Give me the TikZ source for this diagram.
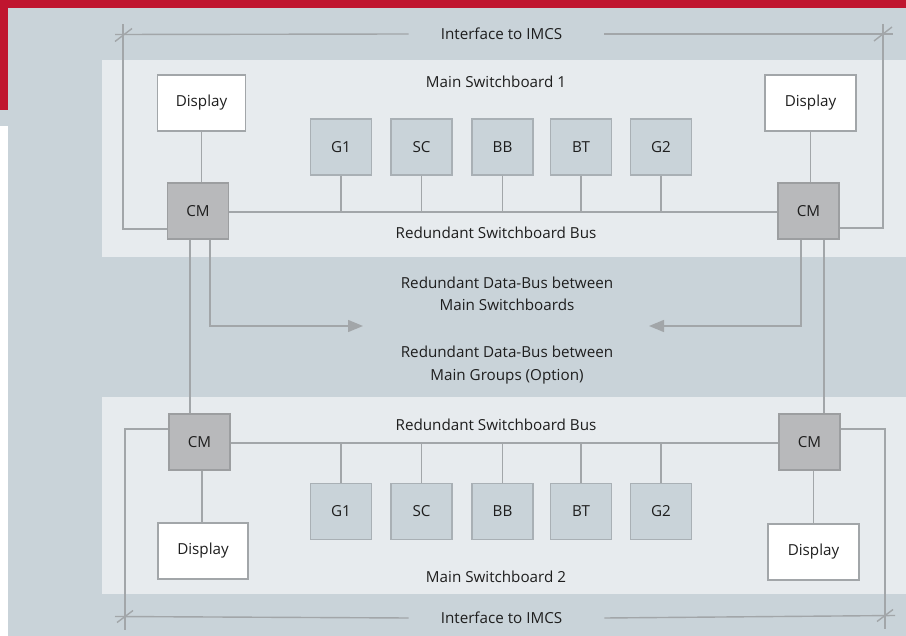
\documentclass[tikz,border=0pt]{standalone}
\usepackage{fontspec}
\setmainfont{Open Sans}
\usetikzlibrary{arrows.meta}
\definecolor{bgc}{HTML}{C9D3D9}
\definecolor{panelc}{HTML}{E7EBEE}
\definecolor{redc}{HTML}{C0152F}
\definecolor{linec}{HTML}{A2A6A9}
\definecolor{gfill}{HTML}{C9D3D9}
\definecolor{gdraw}{HTML}{A9B0B5}
\definecolor{cmfill}{HTML}{B8B9BB}
\definecolor{cmdraw}{HTML}{9C9EA0}
\definecolor{txtc}{HTML}{1E1E1E}
\begin{document}
\begin{tikzpicture}[x=1pt,y=-1pt,
  font=\fontsize{15.2}{18}\selectfont, text=txtc,
  ln/.style={draw=linec, line width=1.4pt},
  arr/.style={ln, -{Triangle[length=15pt,width=12pt]}, linec},
  dispbox/.style={draw=linec, fill=white, line width=1.4pt, minimum width=88pt, minimum height=56pt, inner sep=0pt},
  cmbox/.style={draw=cmdraw, fill=cmfill, line width=1.4pt, minimum width=61pt, minimum height=56pt, inner sep=0pt},
  gbox/.style={draw=gdraw, fill=gfill, line width=1.4pt, minimum width=61pt, minimum height=56pt, inner sep=0pt},
  lbl/.style={inner sep=0pt, align=center},
  tick/.style={ln}
]
% background
\fill[bgc] (0,0) rectangle (906,636);
\useasboundingbox (0,0) rectangle (906,636);
\fill[redc] (0,0) rectangle (906,8);
\fill[redc] (0,0) rectangle (8,110);
\fill[white] (0,126) rectangle (8,636);
\fill[panelc] (102,60) rectangle (906,257);
\fill[panelc] (102,397) rectangle (906,594);

% top switchboard
\node[dispbox] (d1) at (201.5,103) {Display};
\node[dispbox, minimum width=91pt] (d2) at (810.5,103) {Display};
\node[cmbox] (cm1) at (198,211) {CM};
\node[cmbox] (cm2) at (808.5,211) {CM};
\node[gbox] (g1) at (341,147) {G1};
\node[gbox] (g2) at (421.5,147) {SC};
\node[gbox] (g3) at (502.5,147) {BB};
\node[gbox] (g4) at (581,147) {BT};
\node[gbox] (g5) at (661,147) {G2};

% bottom switchboard
\node[cmbox] (cm3) at (199.5,442) {CM};
\node[cmbox] (cm4) at (809.5,442) {CM};
\node[dispbox, minimum width=90pt] (d3) at (203,551) {Display};
\node[dispbox, minimum width=91pt] (d4) at (813.5,552) {Display};
\node[gbox] (h1) at (341,511.5) {G1};
\node[gbox] (h2) at (421.5,511.5) {SC};
\node[gbox] (h3) at (502.5,511.5) {BB};
\node[gbox] (h4) at (581,511.5) {BT};
\node[gbox] (h5) at (661,511.5) {G2};

% labels
\node[lbl] (if1) at (501.5,34) {Interface to IMCS};
\node[lbl] (ms1) at (496,82) {Main Switchboard 1};
\node[lbl] (rb1) at (496,233) {Redundant Switchboard Bus};
\node[lbl] (db1) at (507,294) {Redundant Data-Bus between\\[4.5pt]Main Switchboards};
\node[lbl] (db2) at (507,365) {Redundant Data-Bus between\\[4.5pt]Main Groups (Option)};
\node[lbl] (rb2) at (496,425) {Redundant Switchboard Bus};
\node[lbl] (ms2) at (496,577) {Main Switchboard 2};
\node[lbl] (if2) at (501.5,618) {Interface to IMCS};

% top connectors
\draw[ln] (d1.south) -- (d1.south |- cm1.north);
\draw[ln] (d2.south) -- (d2.south |- cm2.north);
\coordinate (bus1) at (0,212);
\draw[ln] (cm1.east |- bus1) -- (cm2.west |- bus1);
\foreach \g in {g1,g2,g3,g4,g5}{
  \draw[ln] (\g.south) -- (\g.south |- bus1);
}
% bottom connectors
\coordinate (bus2) at (0,443);
\draw[ln] (cm3.east |- bus2) -- (cm4.west |- bus2);
\foreach \g in {h1,h2,h3,h4,h5}{
  \draw[ln] (\g.north) -- (\g.north |- bus2);
}
\draw[ln] ([xshift=2.5pt]cm3.south) -- ([xshift=2.5pt]cm3.south |- d3.north);
\draw[ln] ([xshift=4pt]cm4.south) -- ([xshift=4pt]cm4.south |- d4.north);

% data bus between switchboards
\draw[ln] ([xshift=-8pt]cm1.south) -- ([xshift=-8pt]cm1.south |- cm3.north);
\draw[ln] ([xshift=15.5pt]cm2.south) -- ([xshift=15.5pt]cm2.south |- cm4.north);
\coordinate (tipL) at (363,326);
\coordinate (tipR) at (649,326);
\draw[arr] ([xshift=12pt]cm1.south) |- (tipL);
\draw[arr] ([xshift=-7.5pt]cm2.south) |- (tipR);

% interface top
\coordinate (itl) at (123,34.5);
\coordinate (itr) at (883,34);
\coordinate (il1) at (123,229);
\coordinate (ir1) at (883,228);
\draw[ln] ([yshift=10pt]itl) -- (il1) -- (il1 -| cm1.west);
\draw[ln] ([yshift=10pt]itr) -- (ir1) -- (ir1 -| cm2.east);
\draw[ln] ([xshift=-8pt]itl) -- ([xshift=-32pt]if1.west);
\draw[ln] ([xshift=42pt]if1.east) -- ([xshift=10pt]itr);
\draw[tick] ([shift={(-8,7)}]itl) -- ([shift={(9,-6)}]itl);
\draw[tick] ([shift={(-9,7)}]itr) -- ([shift={(9,-7)}]itr);

% interface bottom
\coordinate (ibl) at (125,616.5);
\coordinate (ibr) at (885,615.5);
\coordinate (il2) at (125,429);
\coordinate (ir2) at (885,429);
\draw[ln] ([yshift=-13pt]ibl) -- (il2) -- (il2 -| cm3.west);
\draw[ln] ([yshift=-13pt]ibr) -- (ir2) -- (ir2 -| cm4.east);
\draw[ln] ([xshift=-10pt]ibl) -- ([xshift=-32pt]if2.west);
\draw[ln] ([xshift=42pt]if2.east) -- ([xshift=10pt]ibr);
\draw[tick] ([shift={(-8,6)}]ibl) -- ([shift={(8,-6)}]ibl);
\draw[tick] ([shift={(-8,6)}]ibr) -- ([shift={(8,-6)}]ibr);
\end{tikzpicture}
\end{document}
